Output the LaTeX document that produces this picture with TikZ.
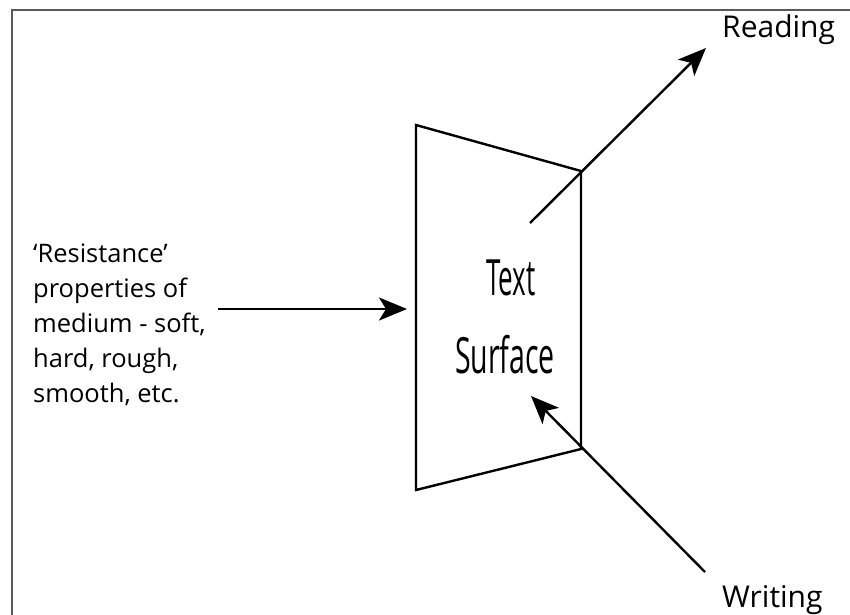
\documentclass[tikz,border=0pt]{standalone}
\usepackage{fontspec}
\setmainfont{Open Sans}
\usetikzlibrary{arrows.meta}
\tikzset{
  edge/.style={line width=2.4pt, line join=miter},
  arr/.style={edge, -{Stealth[length=28pt,width=23pt,inset=7pt]}},
  lbl/.style={inner sep=0pt, font=\fontsize{30}{36}\selectfont},
  side/.style={inner sep=0pt, align=left, font=\fontsize{25.5}{35}\selectfont},
  frame/.style={draw=black!65, line width=2pt}
}
\begin{document}
\begin{tikzpicture}[x=1pt,y=-1pt]
\useasboundingbox (0,0) rectangle (850,614);
\begin{scope}
\clip (0,0) rectangle (850,614);
\draw[frame] (12,10) rectangle (900,660);
\end{scope}
% trapezoid surface
\coordinate (tl) at (416,125);
\coordinate (tr) at (581,171);
\coordinate (br) at (581,449);
\coordinate (bl) at (416,490);
\draw[edge] (tl) -- (tr) -- (br) -- (bl) -- cycle;
\node[inner sep=0pt, anchor=base] (t1) at (511,295) {\fontsize{50}{60}\selectfont\scalebox{0.52}[1]{Text}};
\node[inner sep=0pt, anchor=base] (t2) at (505,373) {\fontsize{50}{60}\selectfont\scalebox{0.57}[1]{Surface}};
% labels
\node[lbl, anchor=base west] (read) at (722,37) {Reading};
\node[lbl, anchor=base west] (write) at (722,607) {Writing};
\node[side, anchor=base west] (res) at (33,402) {‘Resistance’\\properties of\\medium - soft,\\hard, rough,\\smooth, etc.};
% arrows
\coordinate (rs) at (530,223);
\coordinate (rt) at (706,48);
\draw[arr] (rs) -- (rt);
\coordinate (ws) at (705,572);
\coordinate (wt) at (531,396);
\draw[arr] (ws) -- (wt);
\coordinate (ls) at (218,309);
\coordinate (lt) at (407,309);
\draw[arr] (ls) -- (lt);
\end{tikzpicture}
\end{document}
